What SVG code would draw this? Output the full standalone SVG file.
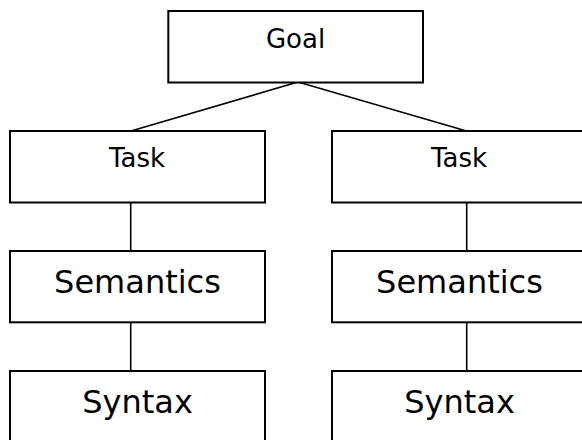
<svg xmlns="http://www.w3.org/2000/svg" width="582" height="440" viewBox="0 0 582 440">
<style>
.box{fill:#fff;stroke:#000;stroke-width:2}
.conn{stroke:#000;stroke-width:1.6;fill:none}
.t{font-family:"DejaVu Sans",Verdana,sans-serif;fill:#000;text-anchor:middle}
.s{font-size:26px}
.l{font-size:32px}
</style>
<rect width="582" height="440" fill="#fff"/>
<g id="connectors">
<line class="conn" x1="298" y1="82" x2="131" y2="131"/>
<line class="conn" x1="298" y1="82" x2="466.5" y2="131"/>
<line class="conn" x1="130.7" y1="202" x2="130.7" y2="251"/>
<line class="conn" x1="130.7" y1="322" x2="130.7" y2="371"/>
<line class="conn" x1="466.7" y1="202" x2="466.7" y2="251"/>
<line class="conn" x1="466.7" y1="322" x2="466.7" y2="371"/>
</g>
<g id="goal">
<rect class="box" x="168.3" y="11" width="254.7" height="71.5"/>
<text class="t s" x="295.5" y="48.3">Goal</text>
</g>
<g id="task-left">
<rect class="box" x="10" y="131" width="255" height="71.5"/>
<text class="t s" x="137" y="167.3">Task</text>
</g>
<g id="task-right">
<rect class="box" x="332" y="131" width="255" height="71.5"/>
<text class="t s" x="459" y="167.3">Task</text>
</g>
<g id="semantics-left">
<rect class="box" x="10" y="251" width="255" height="71.3"/>
<text class="t l" x="137.5" y="293.3">Semantics</text>
</g>
<g id="semantics-right">
<rect class="box" x="332" y="251" width="255" height="71.3"/>
<text class="t l" x="459.5" y="293.3">Semantics</text>
</g>
<g id="syntax-left">
<rect class="box" x="10" y="371" width="255" height="75"/>
<text class="t l" x="137.5" y="413.3">Syntax</text>
</g>
<g id="syntax-right">
<rect class="box" x="332" y="371" width="255" height="75"/>
<text class="t l" x="459.5" y="413.3">Syntax</text>
</g>
</svg>
